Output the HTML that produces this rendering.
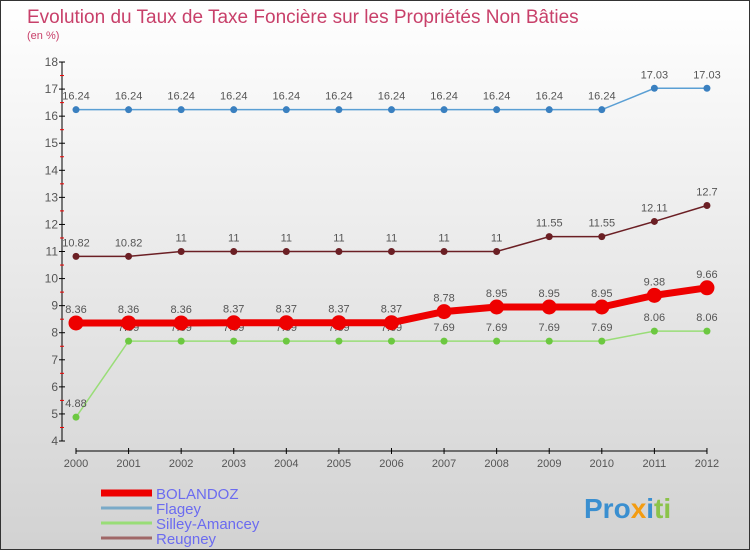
<!DOCTYPE html>
<html><head><meta charset="utf-8"><style>
body{margin:0}
#c{width:750px;height:550px;position:relative;overflow:hidden;background:linear-gradient(#ffffff,#d2d2d2);box-sizing:border-box;border:1px solid #333;font-family:"Liberation Sans",sans-serif}
svg{position:absolute;left:0;top:0}
</style></head><body>
<div id="c">
<svg id="s" width="750" height="550">
<text x="26" y="22" font-size="19" fill="#c8406a">Evolution du Taux de Taxe Foncière sur les Propriétés Non Bâties</text>
<text x="26" y="38" font-size="11" fill="#c8406a">(en %)</text>
<text x="583" y="517" font-size="28" font-weight="bold" fill="#3a8fd0">Pro<tspan fill="#f39c12">x</tspan><tspan fill="#3a8fd0">i</tspan><tspan fill="#8bc34a">ti</tspan></text>
</svg>
</div>
<script>
const years=["2000","2001","2002","2003","2004","2005","2006","2007","2008","2009","2010","2011","2012"];
const bolandoz=[8.36,8.36,8.36,8.37,8.37,8.37,8.37,8.78,8.95,8.95,8.95,9.38,9.66];
const flagey=[16.24,16.24,16.24,16.24,16.24,16.24,16.24,16.24,16.24,16.24,16.24,17.03,17.03];
const silley=[4.88,7.69,7.69,7.69,7.69,7.69,7.69,7.69,7.69,7.69,7.69,8.06,8.06];
const reugney=[10.82,10.82,11,11,11,11,11,11,11,11.55,11.55,12.11,12.7];
const yTicks=[4,5,6,7,8,9,10,11,12,13,14,15,16,17,18];
const svg=document.getElementById('s');const NS='http://www.w3.org/2000/svg';
function X(i){return 75+i*52.58}
function Y(v){return 440-(v-4)*27.07}
function el(t,a,p){const e=document.createElementNS(NS,t);for(const k in a)e.setAttribute(k,a[k]);(p||svg).appendChild(e);return e}
let ax=el('line',{x1:61,y1:Y(18),x2:61,y2:Y(4),stroke:'#000'});


yTicks.forEach(v=>{el('line',{x1:58,x2:64,y1:Y(v),y2:Y(v),stroke:'#000'});
 if(v<18)el('line',{x1:59,x2:63,y1:Y(v+0.5),y2:Y(v+0.5),stroke:'#e00'});
 const t=el('text',{x:57,y:Y(v)+4,'font-size':12,fill:'#555','text-anchor':'end'});t.textContent=v;
 
 });
let xa=el('line',{x1:75,y1:450,x2:706,y2:450,stroke:'#000'});


years.forEach((y,i)=>{el('line',{x1:X(i),x2:X(i),y1:447,y2:453,stroke:'#000'});
 const t=el('text',{x:X(i),y:466,'font-size':11,fill:'#555','text-anchor':'middle'});t.textContent=y;
 
 });
function series(d,name,col,w,r,dot){
 const g=el('g',{});
 
 
 el('polyline',{points:d.map((v,i)=>X(i)+','+Y(v)).join(' '),fill:'none',stroke:col,'stroke-width':w},g);
 d.forEach((v,i)=>{const c=el('circle',{cx:X(i),cy:Y(v),r:r,fill:dot},g);
  
  
  const t=el('text',{x:X(i),y:Y(v)-10,'font-size':11,fill:'#555','text-anchor':'middle'},g);t.textContent=v;
  
  });
}
series(flagey,'flagey','#5a9fd4',1.5,3.5,'#3a80c0');
series(reugney,'reugney','#6b1f24',1.5,3.5,'#6b1f24');
series(silley,'silley','#99dd77',1.5,3.5,'#6cc840');
series(bolandoz,'bolandoz','#ee0000',7,7.5,'#ee0000');
const names=["BOLANDOZ","Flagey","Silley-Amancey","Reugney"];
const cols=['#ee0000','#7aaac8','#99dd77','#a06868'];const ws=[7,3,3,3];
names.forEach((n,i)=>{const y=492+i*15;
 const l=el('line',{x1:100,x2:151,y1:y,y2:y,stroke:cols[i],'stroke-width':ws[i]});
 
 
 const t=el('text',{x:155,y:y+6,'font-size':15,fill:'#6b6bf0'});t.textContent=n;
 
 });
</script>
</body></html>
